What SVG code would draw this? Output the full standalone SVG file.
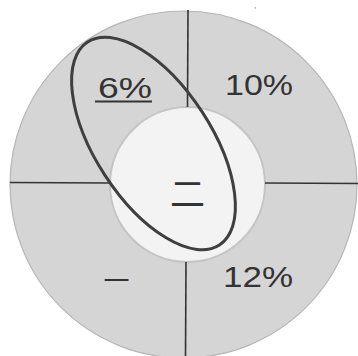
<svg xmlns="http://www.w3.org/2000/svg" width="358" height="356" viewBox="0 0 358 356">
<style>
.pct{font-family:"Liberation Sans",Arial,sans-serif;font-size:29px;fill:#333;}
.jp{font-family:"Noto Sans CJK JP","Noto Sans",sans-serif;fill:#333;}
.div{stroke:#333;stroke-width:1.6;fill:none;}
</style>
<rect width="358" height="356" fill="#ffffff"/>
<g id="outer-ring">
<circle cx="183.5" cy="184.5" r="173.5" fill="#d5d5d5" stroke="#b5b5b5" stroke-width="1.2"/>
</g>
<g id="inner-circle">
<circle cx="187.5" cy="184.5" r="77.5" fill="#f3f3f3" stroke="#c4c4c4" stroke-width="2"/>
</g>
<g id="connectors">
<line class="div" x1="188" y1="10" x2="187.5" y2="107"/>
<line class="div" x1="186" y1="262" x2="185.5" y2="356"/>
<line class="div" x1="10" y1="182.5" x2="110" y2="183"/>
<line class="div" x1="265" y1="183" x2="358" y2="183.5"/>
</g>
<g id="label-6">
<text class="pct" x="98" y="98" textLength="54" lengthAdjust="spacingAndGlyphs">6%</text>
<line x1="95" y1="101.5" x2="152" y2="101.5" stroke="#333" stroke-width="2"/>
</g>
<g id="label-10">
<text class="pct" x="225" y="95" font-size="30" textLength="68" lengthAdjust="spacingAndGlyphs">10%</text>
</g>
<g id="label-12">
<text class="pct" x="223" y="287" textLength="70" lengthAdjust="spacingAndGlyphs">12%</text>
</g>
<g id="label-ichi">
<text class="jp" x="116.5" y="290" font-size="26" text-anchor="middle">一</text>
</g>
<g id="label-ni">
<text class="jp" x="187.5" y="206.5" font-size="35" text-anchor="middle">二</text>
</g>
<g id="ellipse">
<ellipse cx="153.5" cy="143.5" rx="121" ry="58" transform="rotate(57 153.5 143.5)" fill="none" stroke="#3f3f3f" stroke-width="3"/>
</g>
<text x="254" y="8" font-family="Liberation Sans,sans-serif" font-size="8" fill="#555">,</text>
</svg>
